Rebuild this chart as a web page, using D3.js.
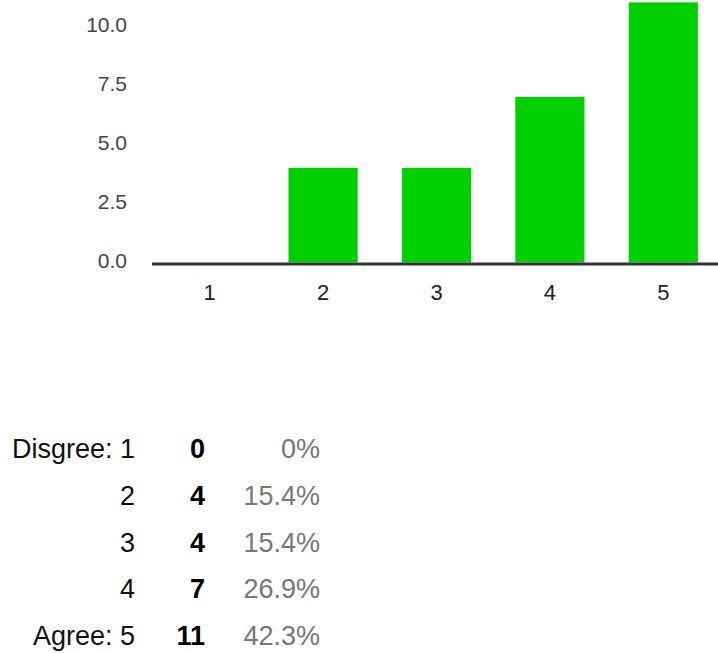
<!DOCTYPE html>
<html>
<head>
<meta charset="utf-8">
<script src="https://cdn.jsdelivr.net/npm/d3@7"></script>
<style>
  html, body { margin: 0; padding: 0; background: #fff; }
  svg { display: block; font-family: Arial, "Liberation Sans", sans-serif; }
</style>
</head>
<body>
<svg id="chart" width="718" height="653"></svg>
<script>
const categories = ["1", "2", "3", "4", "5"];
const counts = [0, 4, 4, 7, 11];
const rowLabels = ["Disgree: 1", "2", "3", "4", "Agree: 5"];
const percents = ["0%", "15.4%", "15.4%", "26.9%", "42.3%"];
const yTicks = [0, 2.5, 5, 7.5, 10];

const svg = d3.select("#chart");

const x = d3.scaleBand().domain(categories).range([153, 720]).paddingInner(0.39).paddingOuter(0.195);
const y = d3.scaleLinear().domain([0, 10]).range([262.5, 26]);

// bars
svg.append("g").selectAll("rect")
  .data(categories.map((c, i) => ({ c, v: counts[i] })))
  .join("rect")
  .attr("x", d => x(d.c))
  .attr("width", x.bandwidth())
  .attr("y", d => y(d.v))
  .attr("height", d => y(0) - y(d.v))
  .attr("fill", "#00cf00");

// y axis labels
const yAxis = d3.axisLeft(y).tickValues(yTicks).tickFormat(d3.format(".1f")).tickSize(0).tickPadding(0);
const gy = svg.append("g").attr("transform", "translate(127,-1.5)").call(yAxis);
gy.select(".domain").remove();
gy.selectAll("text").attr("font-size", 21).attr("fill", "#444").attr("font-family", "Arial, 'Liberation Sans', sans-serif");

// x axis
const xAxis = d3.axisBottom(x).tickSize(0).tickPadding(21);
const gx = svg.append("g").attr("transform", `translate(0,${y(0) + 1})`).call(xAxis);
gx.select(".domain").remove();
gx.selectAll("text").attr("font-size", 22).attr("fill", "#222").attr("font-family", "Arial, 'Liberation Sans', sans-serif");
svg.append("line")
  .attr("x1", 152).attr("x2", 718)
  .attr("y1", y(0) + 1.5).attr("y2", y(0) + 1.5)
  .attr("stroke", "#333").attr("stroke-width", 3);

// summary table
const rowY = d3.scaleLinear().domain([0, 4]).range([458, 645]);
const tbl = svg.append("g").attr("font-size", 27);
const rows = tbl.selectAll("g.row")
  .data(rowLabels.map((l, i) => ({ l, c: counts[i], p: percents[i], i })))
  .join("g").attr("class", "row")
  .attr("transform", d => `translate(0,${rowY(d.i)})`);
rows.append("text").attr("x", 135).attr("text-anchor", "end").attr("fill", "#111").text(d => d.l);
rows.append("text").attr("x", 205).attr("text-anchor", "end").attr("fill", "#000").attr("font-weight", "bold").text(d => d.c);
rows.append("text").attr("x", 320).attr("text-anchor", "end").attr("fill", "#777").text(d => d.p);
</script>
</body>
</html>
